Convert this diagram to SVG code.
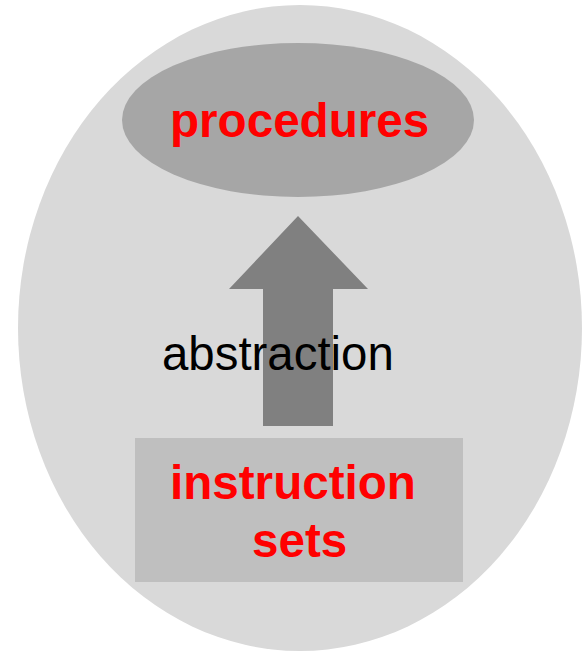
<svg xmlns="http://www.w3.org/2000/svg" width="588" height="652" viewBox="0 0 588 652">
<style>
.lbl{font-family:"Liberation Sans",Arial,sans-serif;font-weight:bold;font-size:47.6px;fill:#ff0000}
.plain{font-family:"Liberation Sans",Arial,sans-serif;font-size:47.4px;fill:#000000}
</style>
<rect width="588" height="652" fill="#ffffff"/>
<g id="outer">
<ellipse cx="300" cy="328" rx="282" ry="323" fill="#d9d9d9"/>
</g>
<g id="procedures">
<ellipse cx="298" cy="120" rx="176" ry="77" fill="#a6a6a6"/>
<text class="lbl" x="170" y="137">procedures</text>
</g>
<g id="instruction-sets">
<rect x="135" y="438" width="328" height="144" fill="#bfbfbf"/>
<text class="lbl" x="170" y="499">instruction</text>
<text class="lbl" x="252" y="557">sets</text>
</g>
<g id="connectors">
<polygon points="298,216 368,289 333,289 333,426 263,426 263,289 229,289" fill="#808080"/>
<text class="plain" x="162" y="370">abstraction</text>
</g>
</svg>
